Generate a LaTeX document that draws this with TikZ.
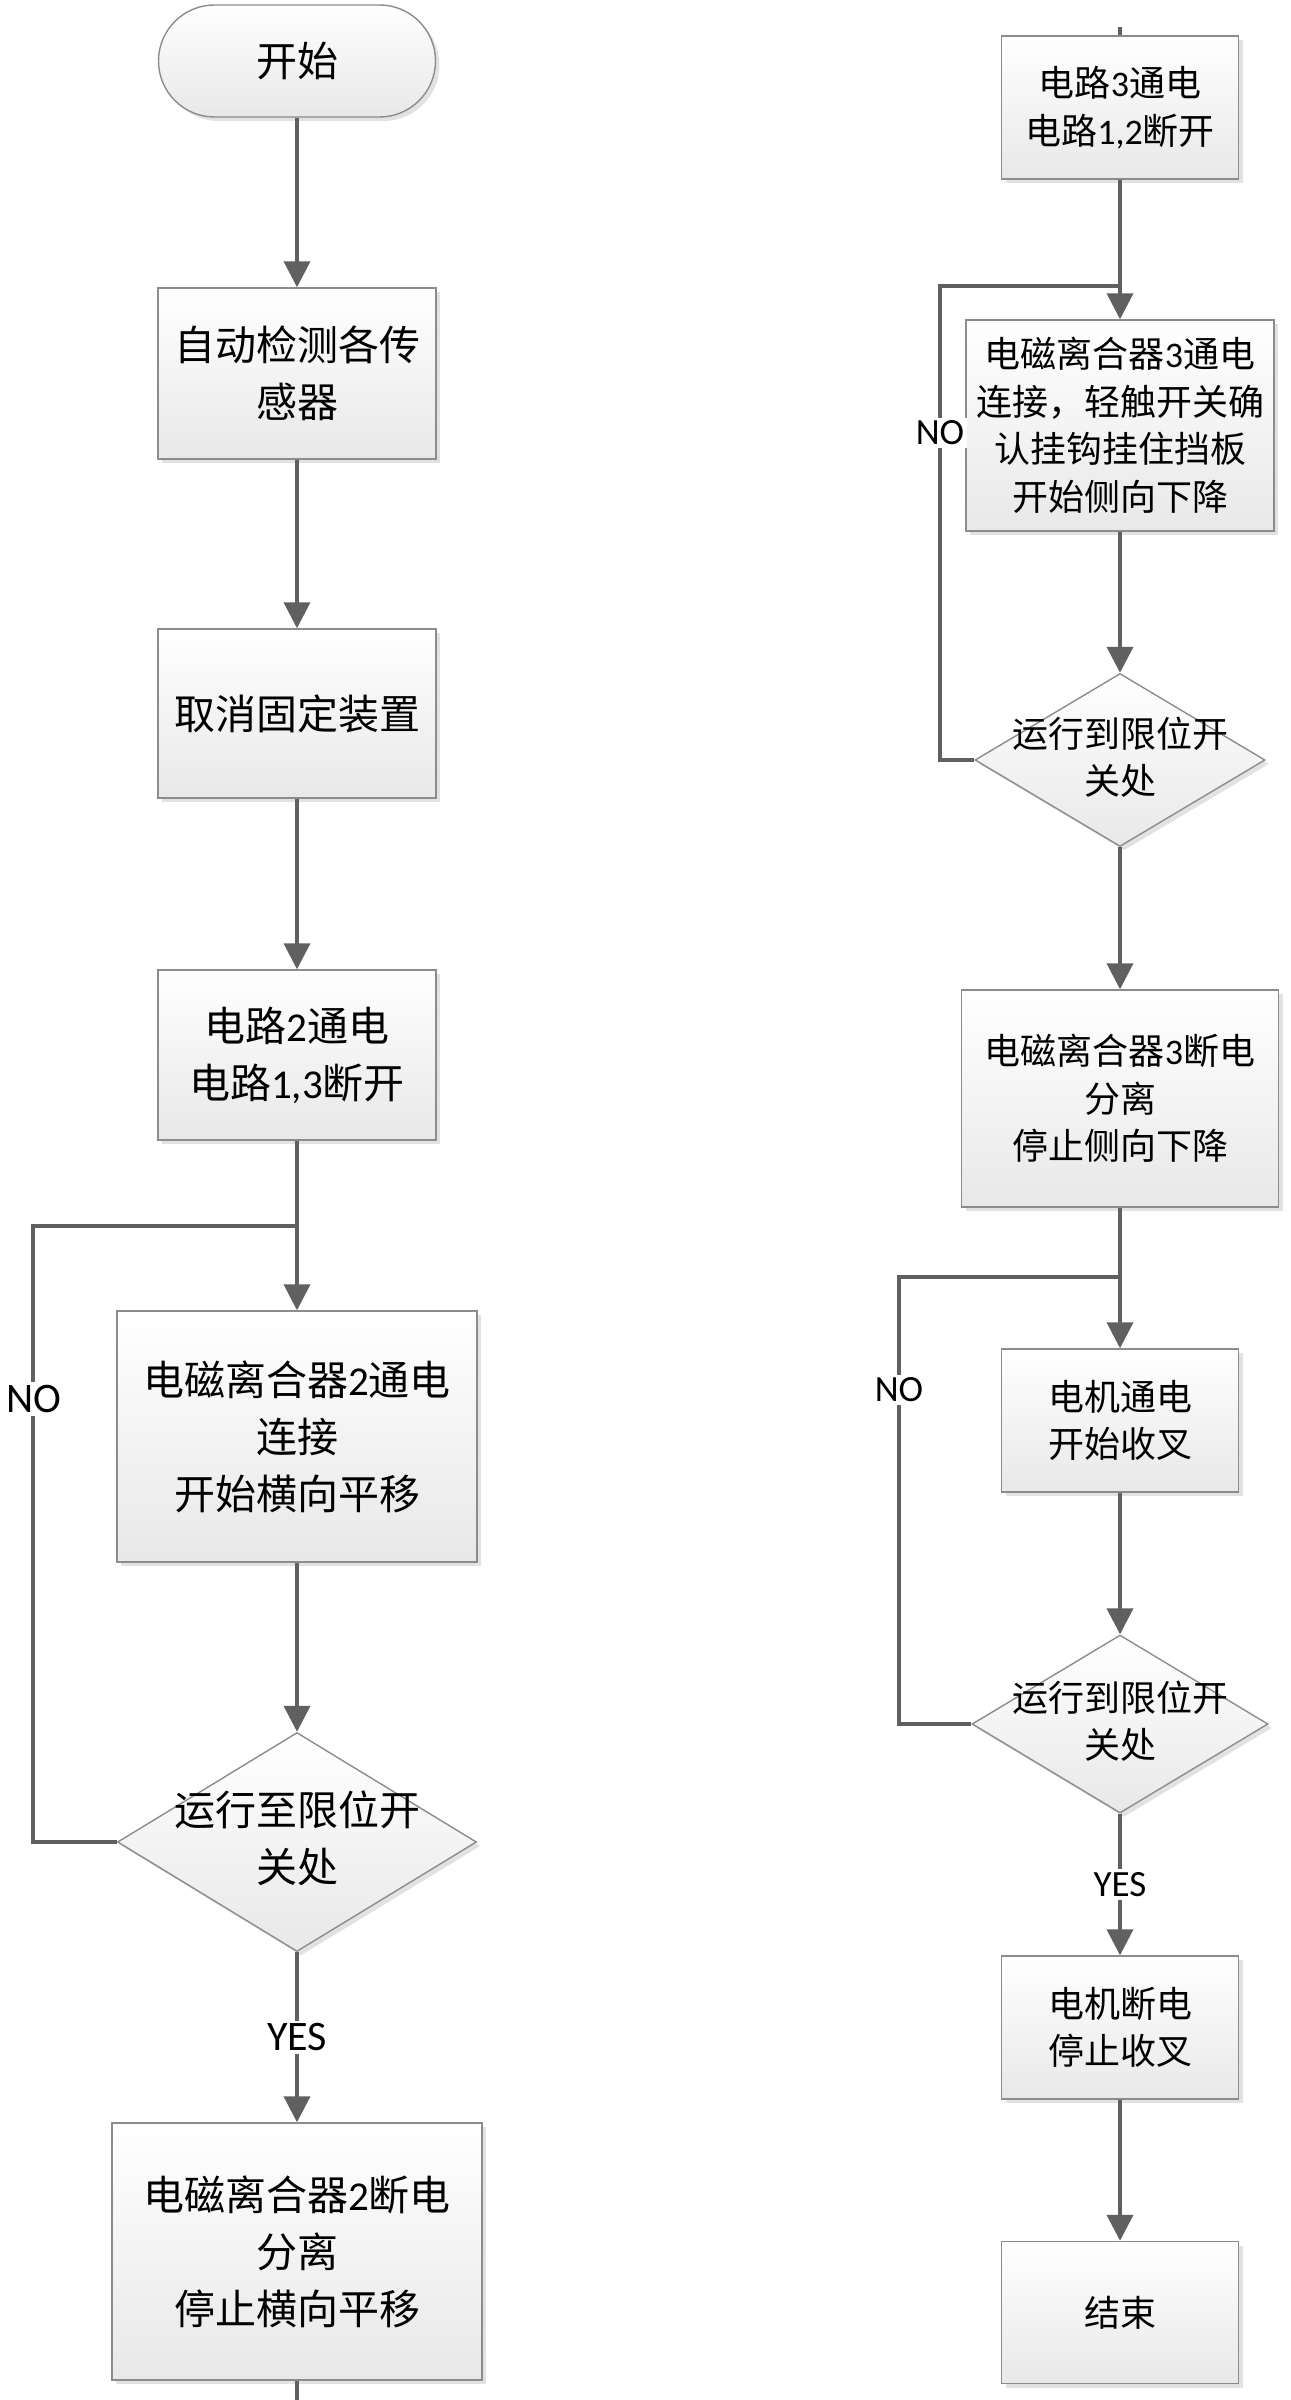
\documentclass[tikz,border=0pt]{standalone}
\usepackage{fontspec}
\setmainfont{Carlito}
\newfontfamily\cjk{Noto Sans CJK SC}
\usetikzlibrary{shapes.geometric,arrows.meta,shadows}
\definecolor{linec}{HTML}{606060}
\definecolor{edgec}{HTML}{8C8C8C}
\newcommand\fontL{\fontsize{41}{57}\selectfont}
\newcommand\fontR{\fontsize{36}{47.5}\selectfont}
\newcommand\dg[1]{{\rmfamily #1}}
\begin{document}
\begin{tikzpicture}[x=1pt,y=-1pt,
  base/.style={draw=edgec, line width=1.4pt, top color=white, bottom color=black!9,
    drop shadow={shadow xshift=4pt, shadow yshift=-4pt, fill=black!25, opacity=0.45},
    align=center, inner sep=0pt},
  procL/.style={base, rectangle, font=\fontL\cjk},
  procR/.style={base, rectangle, font=\fontR\cjk},
  termbox/.style={base, rectangle, rounded corners=56pt, font=\fontL\cjk},
  decbox/.style={base, diamond},
  dtextL/.style={align=center, inner sep=0pt, font=\fontL\cjk},
  dtextR/.style={align=center, inner sep=0pt, font=\fontR\cjk},
  line/.style={draw=linec, line width=3.8pt},
  conn/.style={line, -{Triangle[length=26pt,width=26pt]}},
  lblL/.style={fill=white, inner sep=3pt, font=\fontsize{42}{46}\selectfont\rmfamily},
  lblR/.style={fill=white, inner sep=3pt, font=\fontsize{37}{41}\selectfont\rmfamily}
]
\useasboundingbox (0,0) rectangle (1290,2400);

% ---------------- left column ----------------
\node[termbox, minimum width=277pt, minimum height=112pt] (start) at (297,61) {开始};
\node[procL, minimum width=278pt, minimum height=171pt] (b1) at (297,373.5) {自动检测各传\\感器};
\node[procL, minimum width=278pt, minimum height=169pt] (b2) at (297,713.5) {取消固定装置};
\node[procL, minimum width=278pt, minimum height=170pt] (b3) at (297,1055) {电路\dg{2}通电\\电路\dg{1,3}断开};
\node[procL, minimum width=360pt, minimum height=251pt] (b4) at (297,1436.5) {电磁离合器\dg{2}通电\\连接\\开始横向平移};
\node[decbox, minimum width=359pt, minimum height=219pt] (d1) at (297,1842) {};
\node[dtextL] (d1t) at (297,1838) {运行至限位开\\关处};
\node[procL, minimum width=370pt, minimum height=257pt] (b5) at (297,2251.5) {电磁离合器\dg{2}断电\\分离\\停止横向平移};

\coordinate (j1) at (297,1226);
\coordinate (l1) at (33,1226);
\coordinate (offL) at (297,2400);

\draw[conn] (start) -- (b1);
\draw[conn] (b1) -- (b2);
\draw[conn] (b2) -- (b3);
\draw[line] (b3) -- (j1);
\draw[conn] (j1) -- (b4);
\draw[conn] (b4) -- (d1);
\draw[line] (d1.west) -| (l1) -- (j1);
\node[lblL] (no1) at (34,1399) {NO};
\draw[conn] (d1) -- node[lblL] (yes1) {YES} (b5);
\draw[line] (b5) -- (offL);

% ---------------- right column ----------------
\node[procR, minimum width=237pt, minimum height=143pt] (r1) at (1120,107.5) {电路\dg{3}通电\\电路\dg{1,2}断开};
\node[procR, minimum width=308pt, minimum height=211pt] (r2) at (1120,425.5) {电磁离合器\dg{3}通电\\连接，轻触开关确\\认挂钩挂住挡板\\开始侧向下降};
\node[decbox, minimum width=290pt, minimum height=173pt] (dr1) at (1120,760) {};
\node[dtextR] (dr1t) at (1120,757) {运行到限位开\\关处};
\node[procR, minimum width=317pt, minimum height=217pt] (r3) at (1120,1098.5) {电磁离合器\dg{3}断电\\分离\\停止侧向下降};
\node[procR, minimum width=237pt, minimum height=143pt] (r4) at (1120,1420.5) {电机通电\\开始收叉};
\node[decbox, minimum width=296pt, minimum height=178pt] (dr2) at (1120,1724) {};
\node[dtextR] (dr2t) at (1120,1721) {运行到限位开\\关处};
\node[procR, minimum width=237pt, minimum height=143pt] (r5) at (1120,2027.5) {电机断电\\停止收叉};
\node[procR, minimum width=237pt, minimum height=142pt] (r6) at (1120,2312.5) {结束};

\coordinate (offR) at (1120,27);
\coordinate (j2) at (1120,286);
\coordinate (l2) at (940,286);
\coordinate (j3) at (1120,1277);
\coordinate (l3) at (899,1277);

\draw[line] (offR) -- (r1);
\draw[line] (r1) -- (j2);
\draw[conn] (j2) -- (r2);
\draw[conn] (r2) -- (dr1);
\draw[line] (dr1.west) -| (l2) -- (j2);
\node[lblR] (no2) at (940,433) {NO};
\draw[conn] (dr1) -- (r3);
\draw[line] (r3) -- (j3);
\draw[conn] (j3) -- (r4);
\draw[conn] (r4) -- (dr2);
\draw[line] (dr2.west) -| (l3) -- (j3);
\node[lblR] (no3) at (899,1390) {NO};
\draw[conn] (dr2) -- node[lblR] (yes2) {YES} (r5);
\draw[conn] (r5) -- (r6);
\end{tikzpicture}
\end{document}
